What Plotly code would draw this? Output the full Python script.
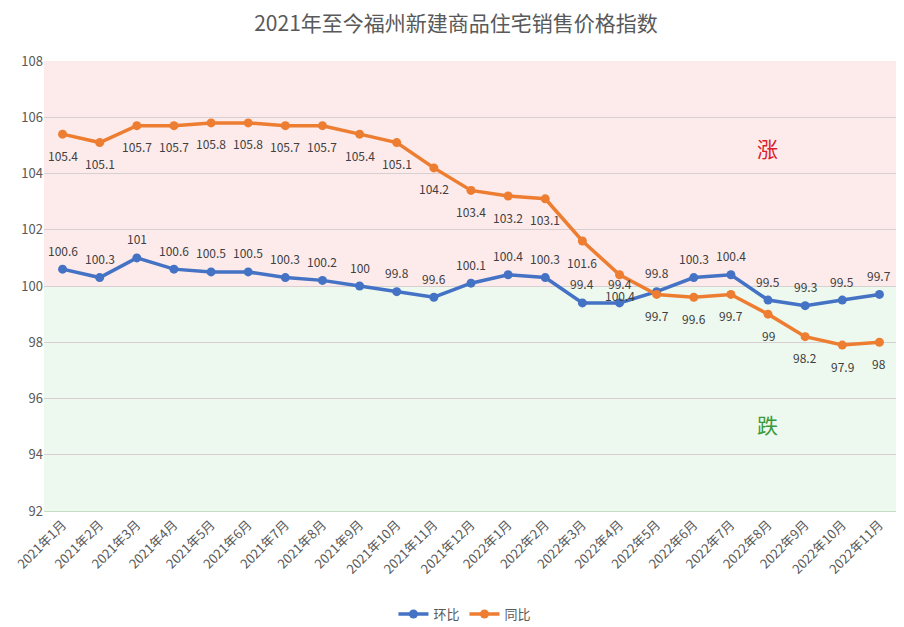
import plotly.graph_objects as go

# -------------------------
# 数据
# -------------------------
months = [
    "2021年1月", "2021年2月", "2021年3月", "2021年4月", "2021年5月", "2021年6月",
    "2021年7月", "2021年8月", "2021年9月", "2021年10月", "2021年11月", "2021年12月",
    "2022年1月", "2022年2月", "2022年3月", "2022年4月", "2022年5月", "2022年6月",
    "2022年7月", "2022年8月", "2022年9月", "2022年10月", "2022年11月",
]
huanbi = [100.6, 100.3, 101, 100.6, 100.5, 100.5, 100.3, 100.2, 100, 99.8, 99.6, 100.1,
          100.4, 100.3, 99.4, 99.4, 99.8, 100.3, 100.4, 99.5, 99.3, 99.5, 99.7]
tongbi = [105.4, 105.1, 105.7, 105.7, 105.8, 105.8, 105.7, 105.7, 105.4, 105.1, 104.2, 103.4,
          103.2, 103.1, 101.6, 100.4, 99.7, 99.6, 99.7, 99, 98.2, 97.9, 98]
y_ticks = [92, 94, 96, 98, 100, 102, 104, 106, 108]

FONT = "Noto Sans CJK SC"
GREY = "#595959"
LABEL = dict(size=12, color="#404040", family=FONT)

fig = go.Figure()

fig.add_trace(go.Scatter(
    x=months, y=huanbi, name="环比", mode="lines+markers",
    line=dict(color="#4472c4", width=3.5),
    marker=dict(size=9, color="#4472c4"),
))
fig.add_trace(go.Scatter(
    x=months, y=tongbi, name="同比", mode="lines+markers",
    line=dict(color="#ed7d31", width=3.5),
    marker=dict(size=9, color="#ed7d31"),
))

# 数据标签：环比在上，同比在下（离点稍远一些）
for m, v in zip(months, huanbi):
    fig.add_annotation(x=m, y=v, text=f"{v:g}", showarrow=False, yshift=19, font=LABEL)
for m, v in zip(months, tongbi):
    fig.add_annotation(x=m, y=v, text=f"{v:g}", showarrow=False, yshift=-21, font=LABEL)

# 背景色块：涨 / 跌
fig.add_hrect(y0=100, y1=108, fillcolor="#fdeaea", line_width=0, layer="below")
fig.add_hrect(y0=92, y1=100, fillcolor="#edf9ee", line_width=0, layer="below")

fig.add_annotation(xref="paper", x=0.862, y=104.9, text="涨", showarrow=False,
                   font=dict(size=21, color="#d9202a", family=FONT))
fig.add_annotation(xref="paper", x=0.862, y=95.1, text="跌", showarrow=False,
                   font=dict(size=21, color="#3a9a3a", family=FONT))

# 页面 body 默认有 8px 边距，这里把画布缩小 8px 来抵消
fig.update_layout(
    width=896, height=619,
    margin=dict(l=36, r=6, t=53, b=116, autoexpand=False),
    paper_bgcolor="white", plot_bgcolor="white",
    font=dict(family=FONT, color=GREY),
    title=dict(text="2021年至今福州新建商品住宅销售价格指数", x=0.5, xanchor="center",
               y=0.974, yanchor="middle", font=dict(size=21, color=GREY, family=FONT)),
    legend=dict(orientation="h", xref="container", x=0.51, xanchor="center",
                y=-0.229, yanchor="middle",
                font=dict(size=13, color=GREY), itemwidth=30),
    showlegend=True,
)
fig.update_xaxes(range=[-0.5, len(months) - 0.5], tickangle=-45,
                 tickfont=dict(size=13, color=GREY), showgrid=False,
                 showline=True, linecolor="#c6dcc6", ticks="", automargin=False)
fig.update_yaxes(range=[92, 108], tickvals=y_ticks, tickfont=dict(size=13, color=GREY),
                 gridcolor="#d8d0d0", gridwidth=1, zeroline=False, ticks="", automargin=False)

fig.write_html("out.html")
